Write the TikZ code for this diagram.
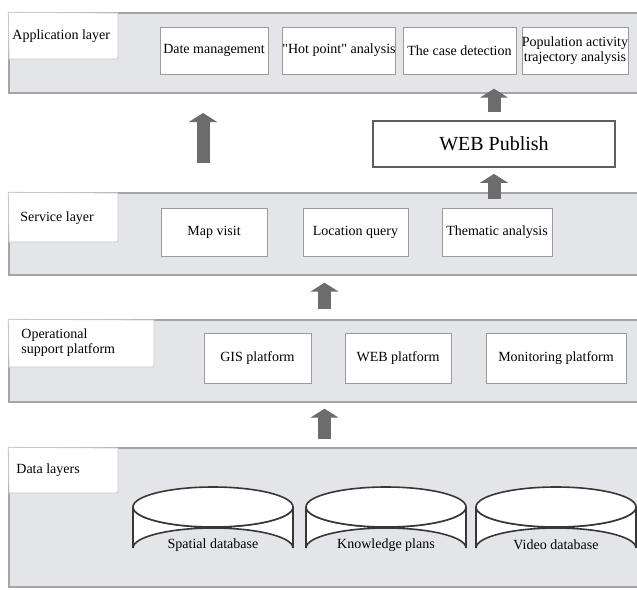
\documentclass[tikz,border=0pt]{standalone}
\usepackage{fontspec}
\setmainfont{Liberation Serif}[Ligatures=TeXOff]
\usepackage{tikz}
\usetikzlibrary{arrows.meta,calc}

\definecolor{bandgray}{RGB}{227,229,232}
\definecolor{bandline}{RGB}{165,165,168}
\definecolor{tabline}{RGB}{200,200,202}
\definecolor{boxline}{RGB}{155,155,155}
\definecolor{webline}{RGB}{95,95,95}
\definecolor{arrowgray}{RGB}{108,108,108}
\definecolor{cylline}{RGB}{55,55,55}

\tikzset{
  band/.style={fill=bandgray, draw=bandline, line width=0.7pt, minimum width=315.5pt, inner sep=0pt},
  tabbox/.style={fill=white, draw=tabline, line width=0.4pt},
  tabtext/.style={anchor=west, inner sep=0pt, align=left, font=\fontsize{7}{7.6}\selectfont},
  box/.style={draw=boxline, fill=white, line width=0.4pt, inner sep=1pt, align=center, font=\fontsize{7}{8}\selectfont},
  uparrow/.style={draw=arrowgray, line width=6.5pt, -{Triangle[width=14pt,length=4.5pt]}},
  cyl/.style={draw=cylline, fill=white, line width=0.8pt},
  cyltext/.style={inner sep=0pt, font=\fontsize{7}{8}\selectfont},
}

\begin{document}
\begin{tikzpicture}[x=0.5pt,y=0.5pt,yscale=-1,xscale=1]
\useasboundingbox (0,0) rectangle (637,589);

%Shape: Bands
\draw (324.5,53) node [band, minimum height=40pt] (appband) {};
\draw (324.5,234) node [band, minimum height=41pt] (servband) {};
\draw (324.5,361) node [band, minimum height=41pt] (opband) {};
\draw (324.5,517.5) node [band, minimum height=69.5pt] (databand) {};

%Shape: Tabs
\draw [tabbox] (appband.north west) -- (118,13) -- (118,56) .. controls (118,59) .. (115,59) -- (9,59) -- cycle ;
\draw [tabbox] (servband.north west) -- (118,193) -- (118,239) .. controls (118,242) .. (115,242) -- (9,242) -- cycle ;
\draw [tabbox] (opband.north west) -- (154,320) -- (154,364) .. controls (154,367) .. (151,367) -- (9,367) -- cycle ;
\draw [tabbox] (databand.north west) -- (118,448) -- (118,490) .. controls (118,493) .. (115,493) -- (9,493) -- cycle ;

% Text Node
\draw (12,36) node [tabtext] (applabel) {Application layer};
% Text Node
\draw (20,218) node [tabtext] (servlabel) {Service layer};
% Text Node
\draw (21,343) node [tabtext] (oplabel) {Operational\\support platform};
% Text Node
\draw (16,470) node [tabtext] (datalabel) {Data layers};

%Application layer boxes
\draw (214,50.5) node [box, minimum width=54pt, minimum height=23.5pt] (dateman) {Date management};
\draw (339,50.5) node [box, minimum width=56pt, minimum height=23.5pt, inner sep=0pt] (hotpoint) {"Hot point" analysis};
\draw (459.5,50.5) node [box, minimum width=56.5pt, minimum height=23.5pt] (casedet) {The case detection};
\draw (575,50.5) node [box, minimum width=53pt, minimum height=23.5pt, inner sep=0pt, font=\fontsize{7}{7.4}\selectfont] (popact) {Population activity\\trajectory analysis};

%WEB publish
\draw (494,144) node [box, draw=webline, line width=0.9pt, minimum width=121pt, minimum height=23pt, font=\fontsize{10}{12}\selectfont] (web) {WEB Publish};

%Service layer boxes
\draw (214,232) node [box, minimum width=53pt, minimum height=24pt] (mapvisit) {Map visit};
\draw (355.5,232) node [box, minimum width=52.5pt, minimum height=24pt] (locquery) {Location query};
\draw (497,232) node [box, minimum width=55pt, minimum height=24pt] (thematic) {Thematic analysis};

%Operational support platform boxes
\draw (257.5,358) node [box, minimum width=53.5pt, minimum height=25pt] (gis) {GIS platform};
\draw (398,358) node [box, minimum width=53pt, minimum height=25pt] (webplat) {WEB platform};
\draw (556,358) node [box, minimum width=70pt, minimum height=25pt] (monitor) {Monitoring platform};

%Shape: Cylinders
\filldraw [cyl] (133,507) -- (133,548) arc [start angle=180, end angle=360, x radius=40pt, y radius=10pt] -- (293,507) arc [start angle=0, end angle=180, x radius=40pt, y radius=10pt] -- cycle ;
\draw [cyl] (213,507) ellipse [x radius=40pt, y radius=10pt] ;
\filldraw [cyl] (306,507) -- (306,548) arc [start angle=180, end angle=360, x radius=40pt, y radius=10pt] -- (466,507) arc [start angle=0, end angle=180, x radius=40pt, y radius=10pt] -- cycle ;
\draw [cyl] (386,507) ellipse [x radius=40pt, y radius=10pt] ;
\filldraw [cyl] (476,507) -- (476,548) arc [start angle=180, end angle=360, x radius=40pt, y radius=10pt] -- (636,507) arc [start angle=0, end angle=180, x radius=40pt, y radius=10pt] -- cycle ;
\draw [cyl] (556,507) ellipse [x radius=40pt, y radius=10pt] ;

% Text Node
\draw (213,545) node [cyltext] (spatial) {Spatial database};
% Text Node
\draw (386,545) node [cyltext] (knowledge) {Knowledge plans};
% Text Node
\draw (556,545) node [cyltext] (video) {Video database};

%Arrows
\coordinate (leftfoot) at (203,163);
\coordinate (lefthead) at (203,113);
\draw [uparrow] (leftfoot) -- (lefthead) ;
\draw [uparrow] ($(web.north)+(0,-8)$) -- ($(appband.south -| web.north)+(0,-5)$) ;
\draw [uparrow] ($(servband.north -| web.south)+(0,7)$) -- ($(web.south)+(0,6)$) ;
\draw [uparrow] ($(opband.north)+(0,-10)$) -- ($(servband.south)+(0,7)$) ;
\draw [uparrow] ($(databand.north)+(0,-8)$) -- ($(opband.south)+(0,6)$) ;

\end{tikzpicture}
\end{document}
